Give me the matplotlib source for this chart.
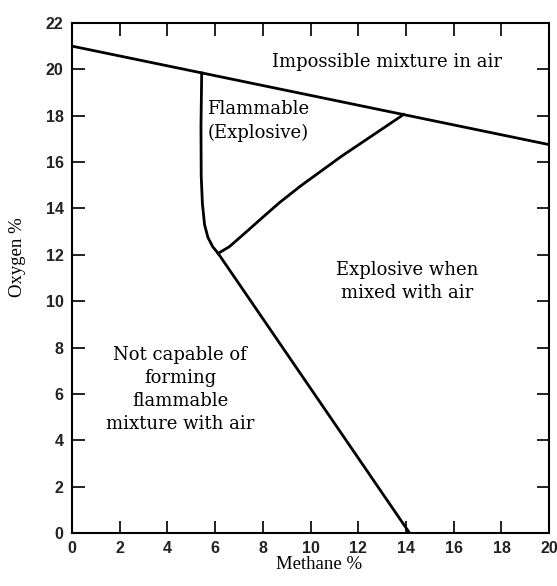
import matplotlib
matplotlib.use('Agg')
import matplotlib.pyplot as plt

# oxygen left when methane is mixed into air (upper limit)
air_ch4 = [0, 20]
air_o2 = [21.0, 16.75]

# lean edge of the flammable zone, down to the nose
lean_ch4 = [5.44, 5.41, 5.42, 5.47, 5.56, 5.70, 5.90, 6.13]
lean_o2 = [19.84, 17.5, 15.4, 14.2, 13.3, 12.75, 12.35, 12.06]

# rich edge from the nose up to the air line
rich_ch4 = [6.13, 6.6, 7.3, 8.0, 8.7, 9.6, 11.3, 13.9]
rich_o2 = [12.06, 12.35, 12.98, 13.62, 14.25, 14.98, 16.25, 18.05]

# line from the nose down to zero oxygen
nose_ch4 = [6.13, 14.15]
nose_o2 = [12.06, 0]

xticks = list(range(0, 21, 2))
yticks = list(range(0, 23, 2))

serif = 'DejaVu Serif'

fig = plt.figure(figsize=(5.57, 5.86), dpi=100)
ax = fig.add_axes([0.129, 0.0904, 0.857, 0.8705])

lw = 2.0
ax.plot(air_ch4, air_o2, color='black', lw=lw)
ax.plot(lean_ch4, lean_o2, color='black', lw=lw)
ax.plot(rich_ch4, rich_o2, color='black', lw=lw)
ax.plot(nose_ch4, nose_o2, color='black', lw=lw)

ax.set_xlim(0, 20)
ax.set_ylim(0, 22)
ax.set_xticks(xticks)
ax.set_yticks(yticks)
ax.tick_params(direction='in', length=9, width=1.4, top=True, right=True,
               labelsize=11.5, pad=6, colors='#222222')
for lab in ax.get_xticklabels() + ax.get_yticklabels():
    lab.set_fontweight('bold')
    lab.set_family('Liberation Sans')
for s in ax.spines.values():
    s.set_linewidth(1.5)

ax.set_xlabel('Methane %', fontsize=13.5, family='Liberation Serif')
ax.set_ylabel('Oxygen %', fontsize=13.5, family='Liberation Serif')
ax.xaxis.set_label_coords(0.518, -0.045)
ax.yaxis.set_label_coords(-0.097, 0.541)

txt = dict(fontsize=13, family=serif, ha='center', va='center', linespacing=1.38)
ax.text(13.2, 20.3, 'Impossible mixture in air', **txt)
ax.text(7.82, 17.76, 'Flammable\n(Explosive)', **txt)
ax.text(14.05, 10.86, 'Explosive when\nmixed with air', **txt)
ax.text(4.53, 6.19, 'Not capable of\nforming\nflammable\nmixture with air', **txt)

fig.savefig('out.png', dpi=100)
